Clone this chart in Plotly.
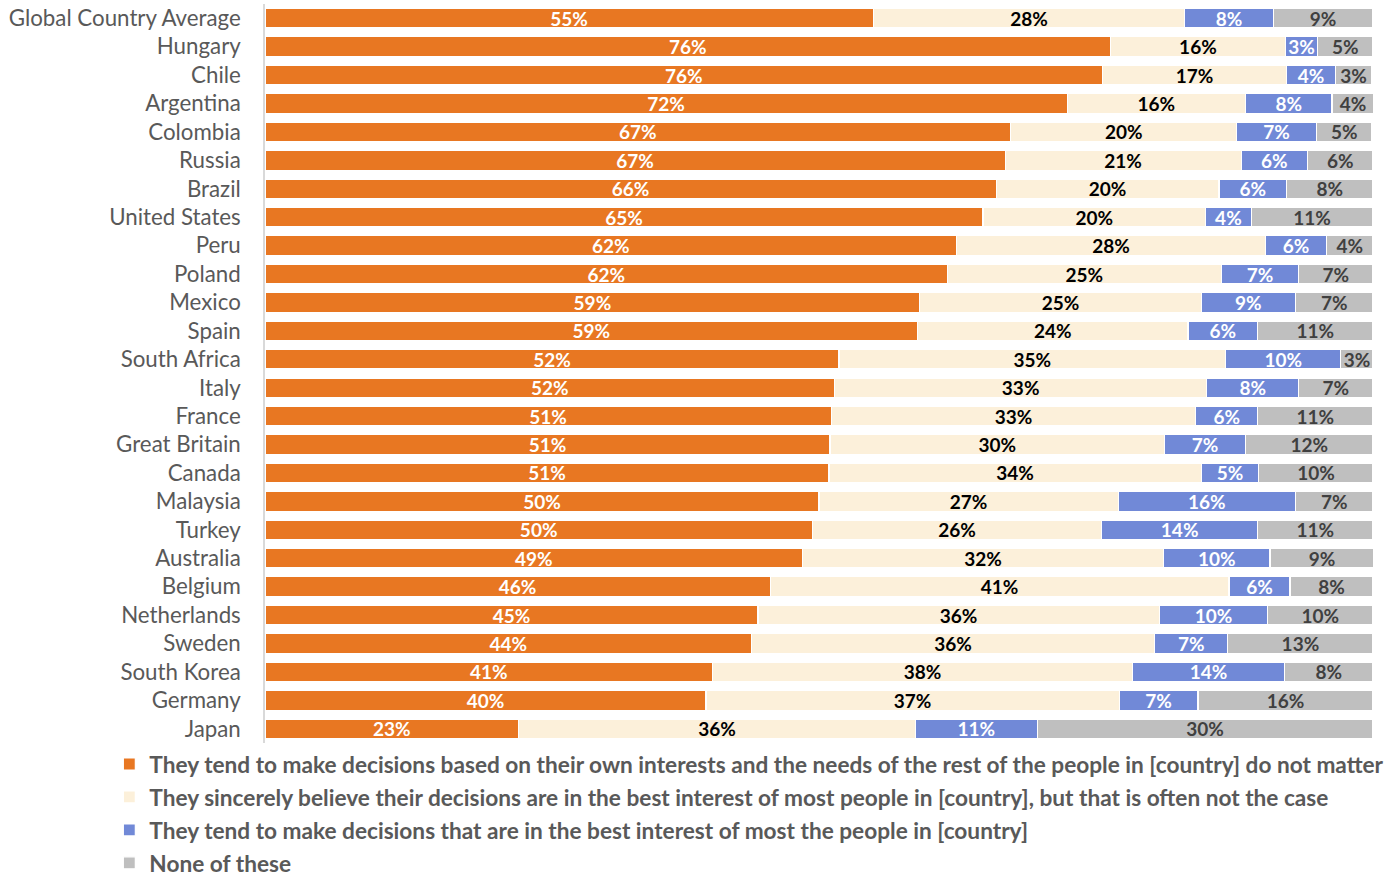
import plotly.graph_objects as go

countries = ["Global Country Average", "Hungary", "Chile", "Argentina", "Colombia", "Russia",
             "Brazil", "United States", "Peru", "Poland", "Mexico", "Spain", "South Africa",
             "Italy", "France", "Great Britain", "Canada", "Malaysia", "Turkey", "Australia",
             "Belgium", "Netherlands", "Sweden", "South Korea", "Germany", "Japan"]

own = [54.9, 76.3, 75.6, 72.4, 67.3, 66.8, 66.0, 64.8, 62.4, 61.6, 59.1, 58.9, 51.8,
       51.4, 51.1, 51.0, 50.9, 50.0, 49.4, 48.5, 45.6, 44.5, 43.9, 40.4, 39.8, 22.9]
sincere = [28.1, 15.8, 16.6, 16.1, 20.4, 21.3, 20.1, 20.1, 27.9, 24.7, 25.4, 24.4, 34.9,
           33.6, 32.9, 30.2, 33.6, 27.0, 26.1, 32.6, 41.4, 36.2, 36.4, 37.9, 37.3, 35.8]
best = [8.0, 2.9, 4.4, 7.8, 7.2, 6.0, 6.1, 4.1, 5.5, 7.0, 8.5, 6.3, 10.4,
        8.3, 5.6, 7.3, 5.2, 16.0, 14.1, 9.6, 5.5, 9.8, 6.6, 13.7, 7.1, 11.0]
none = [9.0, 5.0, 3.3, 3.8, 5.0, 5.9, 7.8, 11.0, 4.2, 6.7, 7.0, 10.4, 2.9,
        6.7, 10.4, 11.5, 10.3, 7.0, 10.4, 9.4, 7.5, 9.5, 13.1, 8.0, 15.8, 30.3]

own_lbl = [55, 76, 76, 72, 67, 67, 66, 65, 62, 62, 59, 59, 52, 52, 51, 51, 51, 50, 50, 49, 46, 45, 44, 41, 40, 23]
sincere_lbl = [28, 16, 17, 16, 20, 21, 20, 20, 28, 25, 25, 24, 35, 33, 33, 30, 34, 27, 26, 32, 41, 36, 36, 38, 37, 36]
best_lbl = [8, 3, 4, 8, 7, 6, 6, 4, 6, 7, 9, 6, 10, 8, 6, 7, 5, 16, 14, 10, 6, 10, 7, 14, 7, 11]
none_lbl = [9, 5, 3, 4, 5, 6, 8, 11, 4, 7, 7, 11, 3, 7, 11, 12, 10, 7, 11, 9, 8, 10, 13, 8, 16, 30]

series_names = [
    "They tend to make decisions based on their own interests and the needs of the rest of the people in [country] do not matter",
    "They sincerely believe their decisions are in the best interest of most people in [country], but that is often not the case",
    "They tend to make decisions that are in the best interest of most the people in [country]",
    "None of these",
]

colors = ["#E87722", "#FCF0DA", "#7189D7", "#BFBFBF"]
text_colors = ["#FFFFFF", "#000000", "#FFFFFF", "#404040"]

FONT = "Lato"

fig = go.Figure()
for i, (vals, lbls) in enumerate([(own, own_lbl), (sincere, sincere_lbl), (best, best_lbl), (none, none_lbl)]):
    fig.add_trace(go.Bar(
        y=countries, x=vals, orientation="h", name=series_names[i],
        marker=dict(color=colors[i], line=dict(color="#FFFFFF", width=1.2)),
        text=[f"{v}%" for v in lbls], textposition="inside", insidetextanchor="middle",
        textangle=0, constraintext="none",
        textfont=dict(family=FONT, size=19, color=text_colors[i], weight="bold"),
        legendgroup=f"g{i}", hoverinfo="skip",
    ))

fig.update_layout(
    barmode="stack", bargap=0.31,
    width=1384, height=878,
    margin=dict(l=265, r=11, t=4, b=135, autoexpand=False),
    paper_bgcolor="white", plot_bgcolor="white",
    font=dict(family=FONT, color="#595959"),
    xaxis=dict(range=[0, 100], visible=False, fixedrange=True),
    yaxis=dict(autorange="reversed", showline=True, linecolor="#D9D9D9", linewidth=1.5,
               tickfont=dict(family=FONT, size=22.3, color="#595959"), ticks="",
               ticklabelstandoff=18, showgrid=False, automargin=False, fixedrange=True),
    legend=dict(orientation="v", xref="container", yref="container",
                x=0.079, xanchor="left", y=0.154, yanchor="top",
                font=dict(family=FONT, size=22.65, color="#595959", weight="bold"),
                traceorder="grouped", tracegroupgap=0.5, itemwidth=30,
                bgcolor="rgba(0,0,0,0)"),
    showlegend=True,
)

fig.write_html("out.html", config={"displayModeBar": False},
               post_script="document.body.style.margin='0px';document.body.style.overflow='hidden';")
